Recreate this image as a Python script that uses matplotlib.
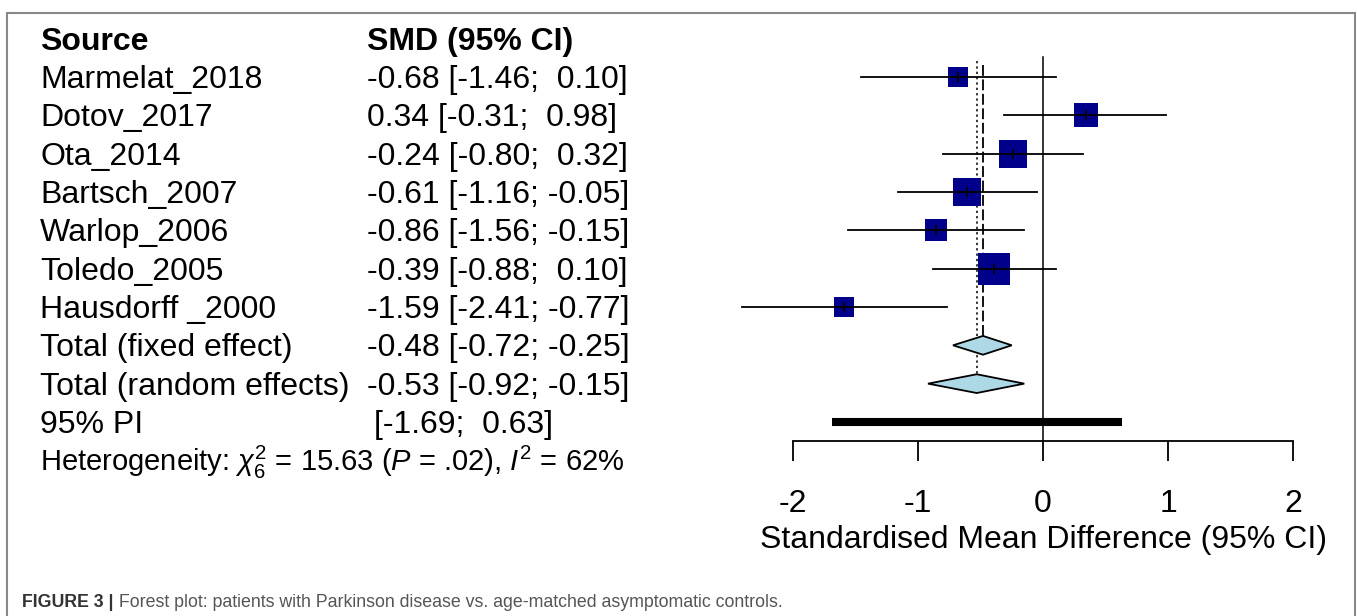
import matplotlib
matplotlib.use("Agg")
import matplotlib.pyplot as plt
from matplotlib.patches import Rectangle
import numpy as np

plt.rcParams['font.family'] = ['Liberation Sans', 'DejaVu Sans']
plt.rcParams['mathtext.fontset'] = 'custom'
plt.rcParams['mathtext.rm'] = 'Liberation Sans'
plt.rcParams['mathtext.it'] = 'Liberation Sans:italic'
plt.rcParams['mathtext.bf'] = 'Liberation Sans:bold'

# study data
studies = ['Marmelat_2018', 'Dotov_2017', 'Ota_2014', 'Bartsch_2007',
           'Warlop_2006', 'Toledo_2005', 'Hausdorff _2000']
smd = [-0.68, 0.34, -0.24, -0.61, -0.86, -0.39, -1.59]
lower = [-1.46, -0.31, -0.80, -1.16, -1.56, -0.88, -2.41]
upper = [0.10, 0.98, 0.32, -0.05, -0.15, 0.10, -0.77]
weights = [9.1, 13.2, 17.6, 17.9, 11.1, 23.0, 8.2]   # % (fixed effect)

# pooled
pooled_labels = ['Total (fixed effect)', 'Total (random effects)']
pooled_est = [-0.48, -0.53]
pooled_lo = [-0.72, -0.92]
pooled_hi = [-0.25, -0.15]
pi_label = '95% PI'
pi_lo, pi_hi = -1.69, 0.63
het_text = r'Heterogeneity: $\chi^2_6$ = 15.63 ($P$ = .02), $I^2$ = 62%'
xticks = [-2, -1, 0, 1, 2]
xlabel = 'Standardised Mean Difference (95% CI)'

W, H = 1357, 616
fig = plt.figure(figsize=(W / 100, H / 100), dpi=100)
ax = fig.add_axes([0, 0, 1, 1])
# pixel layout: x=0 at 1043px, 125px per unit; row 0 at 77px, 38.33px per row
px0, ppu = 1043, 125
py0, ppr = 77, 38.33
ax.set_xlim(-px0 / ppu, (W - px0) / ppu)
ax.set_ylim((H - py0) / ppr, -py0 / ppr)

fs = 23
base = 0.29   # baseline offset in rows
col1 = (40 - px0) / ppu
col2 = (367 - px0) / ppu

ax.text(col1, -1 + base, 'Source', fontsize=fs, fontweight='bold', va='baseline')
ax.text(col2, -1 + base, 'SMD (95% CI)', fontsize=fs, fontweight='bold', va='baseline')

k = len(studies)
rows = np.arange(k)
side = 6.82 * np.sqrt(weights) * 0.72   # square side in points
for i in range(k):
    ax.text(col1, rows[i] + base, studies[i], fontsize=fs, va='baseline')
    ax.text(col2, rows[i] + base, f"{smd[i]:.2f} [{lower[i]:.2f}; {upper[i]:5.2f}]",
            fontsize=fs, va='baseline')
    ax.plot(smd[i], rows[i], marker='s', ms=side[i], color='#00008B',
            mec='#00008B', mew=0, zorder=3)
    ax.plot([lower[i], upper[i]], [rows[i], rows[i]], color='black', lw=1.3, zorder=4)
    ax.plot(smd[i], rows[i], marker='|', ms=6.5, mew=1.2, color='black', zorder=5)

h = 0.245
for j in range(2):
    r = k + j
    ax.text(col1, r + base, pooled_labels[j], fontsize=fs, va='baseline')
    ax.text(col2, r + base, f"{pooled_est[j]:.2f} [{pooled_lo[j]:.2f}; {pooled_hi[j]:5.2f}]",
            fontsize=fs, va='baseline')
    ax.fill([pooled_lo[j], pooled_est[j], pooled_hi[j], pooled_est[j]],
            [r, r - h, r, r + h], facecolor='#ADD8E6', edgecolor='black',
            lw=1.3, zorder=4)

r_pi = k + 2
ax.text(col1, r_pi + base, pi_label, fontsize=fs, va='baseline')
ax.text((374 - px0) / ppu, r_pi + base, f"[{pi_lo:.2f}; {pi_hi:5.2f}]",
        fontsize=fs, va='baseline')
ax.plot([pi_lo, pi_hi], [r_pi, r_pi], color='black', lw=5.8,
        solid_capstyle='butt', zorder=4)

ax.text(col1, r_pi + 1 + base, het_text, fontsize=21, va='baseline')

# reference lines
y_axis = 9.5
ax.plot([0, 0], [-0.52, y_axis], color='black', lw=1.1, zorder=2)
ax.plot([pooled_est[0]] * 2, [-0.31, k - h], color='black', lw=1.3,
        linestyle=(0, (6, 2)), zorder=2)
ax.plot([pooled_est[1]] * 2, [-0.42, k + 1 - h], color='black', lw=1.1,
        linestyle=(0, (1.5, 2)), zorder=2)

# x axis
for s in ['top', 'left', 'right']:
    ax.spines[s].set_visible(False)
ax.spines['bottom'].set_position(('data', y_axis))
ax.spines['bottom'].set_bounds(xticks[0], xticks[-1])
ax.spines['bottom'].set_linewidth(1.3)
ax.set_xticks(xticks)
ax.set_xticklabels([str(t) for t in xticks])
ax.tick_params(axis='x', direction='out', length=14.4, width=1.3,
               labelsize=fs, pad=20)
ax.set_yticks([])
ax.patch.set_alpha(0)
ax.text(0, 12.29, xlabel, fontsize=fs, ha='center', va='baseline')

# frame and caption
fig.patches.append(Rectangle((7 / W, -0.05), (1355 - 7) / W, 1.05 - 13 / H,
                             transform=fig.transFigure, fill=False,
                             edgecolor='#888888', lw=1.5))
t1 = fig.text(22 / W, 9.3 / H, 'FIGURE 3 |', fontsize=12.75, fontweight='bold',
              color='#333333', va='baseline')
ax.annotate(' Forest plot: patients with Parkinson disease vs. age-matched asymptomatic controls.',
            xy=(1, 0), xycoords=t1, fontsize=12.75, color='#555555',
            va='bottom', annotation_clip=False)

fig.savefig('out.png', dpi=100)
